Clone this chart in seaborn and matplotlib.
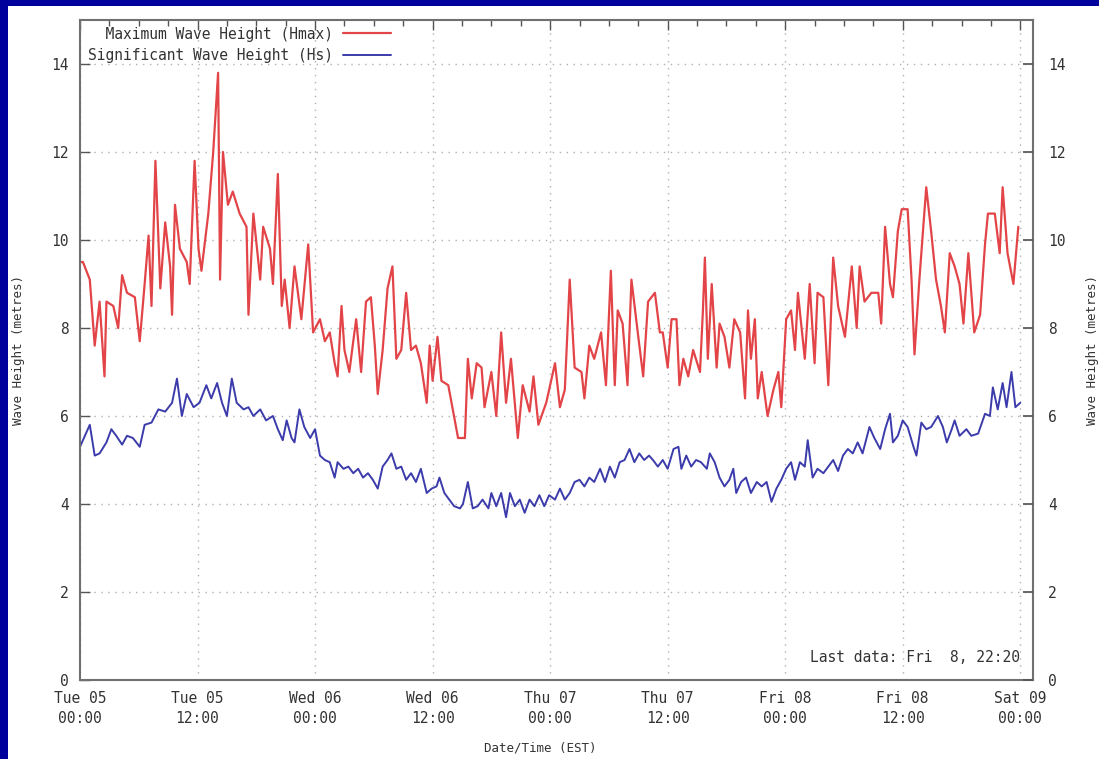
import numpy as np
import pandas as pd
import matplotlib
matplotlib.use("Agg")
import matplotlib.pyplot as plt
from matplotlib.patches import Rectangle
from matplotlib.ticker import MultipleLocator
import seaborn as sns

# hours after Tue 05 00:00 (EST) and wave heights in metres
hmax_hours = [0.0, 0.3, 1.0, 1.5, 2.0, 2.5, 2.7, 3.4, 3.9, 4.3, 4.8, 5.6, 6.1, 6.6, 7.0, 7.3, 7.7, 8.2, 8.7, 9.2,
              9.4, 9.7, 10.2, 10.9, 11.2, 11.7, 12.1, 12.4, 13.1, 13.6, 14.1, 14.3, 14.6, 15.1, 15.6, 16.3, 17.0, 17.2, 17.7, 18.4,
              18.7, 19.4, 19.7, 20.2, 20.6, 20.9, 21.4, 21.9, 22.6, 23.3, 23.8, 24.5, 25.0, 25.5, 26.0, 26.3, 26.7, 27.0, 27.5, 27.9,
              28.2, 28.7, 29.2, 29.7, 30.1, 30.4, 30.9, 31.4, 31.9, 32.3, 32.8, 33.3, 33.8, 34.3, 34.8, 35.4, 35.7, 36.0, 36.5, 36.9,
              37.6, 38.1, 38.6, 39.3, 39.6, 40.0, 40.5, 41.0, 41.3, 42.0, 42.5, 43.0, 43.5, 44.0, 44.7, 45.2, 45.9, 46.3, 46.8, 47.6,
              48.5, 49.0, 49.5, 50.0, 50.5, 51.2, 51.5, 52.0, 52.5, 53.2, 53.7, 54.2, 54.6, 54.9, 55.4, 55.9, 56.3, 57.0, 57.5, 58.0,
              58.7, 59.2, 59.5, 60.0, 60.4, 60.9, 61.2, 61.6, 62.1, 62.6, 63.3, 63.6, 63.8, 64.1, 64.5, 65.0, 65.3, 65.8, 66.3, 66.8,
              67.4, 67.9, 68.2, 68.5, 68.9, 69.2, 69.6, 70.2, 70.8, 71.3, 71.6, 72.1, 72.6, 73.0, 73.3, 74.0, 74.5, 75.0, 75.3, 75.9,
              76.4, 76.9, 77.4, 78.1, 78.8, 79.3, 79.6, 80.1, 80.8, 81.5, 81.8, 82.2, 82.7, 83.0, 83.5, 83.9, 84.5, 84.9, 85.2, 85.7,
              86.4, 86.9, 87.4, 87.9, 88.3, 88.8, 89.3, 89.8, 90.2, 90.7, 91.3, 91.9, 92.4, 92.7, 93.4, 93.9, 94.2, 94.7, 95.3, 95.8]
hmax_vals = [9.5, 9.5, 9.1, 7.6, 8.6, 6.9, 8.6, 8.5, 8.0, 9.2, 8.8, 8.7, 7.7, 9.0, 10.1, 8.5, 11.8, 8.9, 10.4, 9.4,
             8.3, 10.8, 9.8, 9.5, 9.0, 11.8, 9.8, 9.3, 10.6, 12.0, 13.8, 9.1, 12.0, 10.8, 11.1, 10.6, 10.3, 8.3, 10.6, 9.1,
             10.3, 9.8, 9.0, 11.5, 8.5, 9.1, 8.0, 9.4, 8.2, 9.9, 7.9, 8.2, 7.7, 7.9, 7.2, 6.9, 8.5, 7.5, 7.0, 7.7,
             8.2, 7.0, 8.6, 8.7, 7.6, 6.5, 7.5, 8.9, 9.4, 7.3, 7.5, 8.8, 7.5, 7.6, 7.2, 6.3, 7.6, 6.8, 7.8, 6.8,
             6.7, 6.1, 5.5, 5.5, 7.3, 6.4, 7.2, 7.1, 6.2, 7.0, 6.0, 7.9, 6.3, 7.3, 5.5, 6.7, 6.1, 6.9, 5.8, 6.3,
             7.2, 6.2, 6.6, 9.1, 7.1, 7.0, 6.4, 7.6, 7.3, 7.9, 6.7, 9.3, 6.7, 8.4, 8.1, 6.7, 9.1, 7.8, 6.9, 8.6,
             8.8, 7.9, 7.9, 7.1, 8.2, 8.2, 6.7, 7.3, 6.9, 7.5, 7.0, 8.4, 9.6, 7.3, 9.0, 7.1, 8.1, 7.8, 7.1, 8.2,
             7.9, 6.4, 8.4, 7.3, 8.2, 6.4, 7.0, 6.0, 6.6, 7.0, 6.2, 8.2, 8.4, 7.5, 8.8, 7.3, 9.0, 7.2, 8.8, 8.7,
             6.7, 9.6, 8.5, 7.8, 9.4, 8.0, 9.4, 8.6, 8.8, 8.8, 8.1, 10.3, 9.0, 8.7, 10.2, 10.7, 10.7, 9.1, 7.4, 9.1,
             11.2, 10.2, 9.1, 8.5, 7.9, 9.7, 9.4, 9.0, 8.1, 9.7, 7.9, 8.3, 9.9, 10.6, 10.6, 9.7, 11.2, 9.7, 9.0, 10.3]

hs_hours = [0.0, 0.3, 1.0, 1.5, 2.0, 2.7, 3.2, 3.7, 4.3, 4.8, 5.4, 6.1, 6.6, 7.3, 8.0, 8.7, 9.4, 9.9, 10.4, 10.9,
            11.6, 12.2, 12.9, 13.4, 14.0, 14.5, 15.0, 15.5, 16.0, 16.7, 17.2, 17.7, 18.4, 19.0, 19.7, 20.2, 20.7, 21.1, 21.6, 21.9,
            22.4, 22.9, 23.5, 24.0, 24.5, 25.0, 25.5, 26.0, 26.3, 26.9, 27.4, 27.9, 28.4, 28.9, 29.4, 29.9, 30.4, 30.9, 31.4, 31.8,
            32.3, 32.8, 33.3, 33.8, 34.3, 34.8, 35.4, 35.9, 36.4, 36.7, 37.2, 37.7, 38.2, 38.8, 39.1, 39.6, 40.1, 40.6, 41.1, 41.7,
            42.0, 42.5, 43.0, 43.5, 43.9, 44.4, 44.9, 45.4, 45.9, 46.4, 46.9, 47.4, 47.9, 48.5, 49.0, 49.5, 50.0, 50.5, 51.0, 51.5,
            52.0, 52.5, 53.1, 53.6, 54.1, 54.6, 55.1, 55.6, 56.1, 56.6, 57.1, 57.6, 58.1, 58.5, 59.0, 59.5, 60.0, 60.6, 61.1, 61.4,
            61.9, 62.4, 62.9, 63.4, 64.0, 64.3, 64.8, 65.3, 65.8, 66.3, 66.7, 67.0, 67.5, 68.0, 68.5, 69.1, 69.6, 70.1, 70.6, 71.1,
            71.6, 72.1, 72.6, 73.0, 73.5, 74.0, 74.3, 74.8, 75.3, 75.9, 76.4, 76.9, 77.4, 77.9, 78.4, 78.9, 79.4, 79.9, 80.6, 81.1,
            81.7, 82.2, 82.7, 83.0, 83.5, 84.0, 84.5, 85.1, 85.4, 85.9, 86.4, 86.9, 87.6, 88.1, 88.5, 89.0, 89.3, 89.8, 90.5, 91.0,
            91.7, 92.4, 92.9, 93.2, 93.7, 94.2, 94.6, 95.1, 95.5, 96.0]
hs_vals = [5.3, 5.45, 5.8, 5.1, 5.15, 5.4, 5.7, 5.55, 5.35, 5.55, 5.5, 5.3, 5.8, 5.85, 6.15, 6.1, 6.3, 6.85, 6.0, 6.5,
           6.2, 6.3, 6.7, 6.4, 6.75, 6.3, 6.0, 6.85, 6.3, 6.15, 6.2, 6.0, 6.15, 5.9, 6.0, 5.7, 5.45, 5.9, 5.5, 5.4,
           6.15, 5.75, 5.5, 5.7, 5.1, 5.0, 4.95, 4.6, 4.95, 4.8, 4.85, 4.7, 4.8, 4.6, 4.7, 4.55, 4.35, 4.85, 5.0, 5.15,
           4.8, 4.85, 4.55, 4.7, 4.5, 4.8, 4.25, 4.35, 4.4, 4.6, 4.25, 4.1, 3.95, 3.9, 4.0, 4.5, 3.9, 3.95, 4.1, 3.9,
           4.25, 3.95, 4.25, 3.7, 4.25, 3.95, 4.1, 3.8, 4.1, 3.95, 4.2, 3.95, 4.2, 4.1, 4.35, 4.1, 4.25, 4.5, 4.55, 4.4,
           4.6, 4.5, 4.8, 4.5, 4.85, 4.6, 4.95, 5.0, 5.25, 4.95, 5.15, 5.0, 5.1, 5.0, 4.85, 5.0, 4.8, 5.25, 5.3, 4.8,
           5.1, 4.85, 5.0, 4.95, 4.8, 5.15, 4.95, 4.6, 4.4, 4.55, 4.8, 4.25, 4.5, 4.6, 4.25, 4.5, 4.4, 4.5, 4.05, 4.35,
           4.55, 4.8, 4.95, 4.55, 4.95, 4.85, 5.45, 4.6, 4.8, 4.7, 4.85, 5.0, 4.75, 5.1, 5.25, 5.15, 5.4, 5.15, 5.75, 5.5,
           5.25, 5.7, 6.05, 5.4, 5.55, 5.9, 5.75, 5.3, 5.1, 5.85, 5.7, 5.75, 6.0, 5.75, 5.4, 5.7, 5.9, 5.55, 5.7, 5.55,
           5.6, 6.05, 6.0, 6.65, 6.15, 6.75, 6.2, 7.0, 6.2, 6.3]

tick_hours = [0, 12, 24, 36, 48, 60, 72, 84, 96]
tick_labels = ["Tue 05\n00:00", "Tue 05\n12:00", "Wed 06\n00:00", "Wed 06\n12:00", "Thu 07\n00:00",
               "Thu 07\n12:00", "Fri 08\n00:00", "Fri 08\n12:00", "Sat 09\n00:00"]

df_hmax = pd.DataFrame({"hour": hmax_hours, "height": hmax_vals})
df_hs = pd.DataFrame({"hour": hs_hours, "height": hs_vals})

sns.set_theme(style="white")
plt.rcParams["font.family"] = ["DejaVu Sans Mono", "DejaVu Sans"]
fs = 10.5
lfs = 9
txt = "#333333"

fig = plt.figure(figsize=(10.99, 7.59), dpi=100)
fig.patch.set_facecolor("#00009c")
fig.patches.append(Rectangle((8 / 1099, 0), 1, 1 - 6 / 759, transform=fig.transFigure,
                             facecolor="white", edgecolor="none", zorder=-10))
ax = fig.add_axes([80 / 1099, 79 / 759, 953 / 1099, 660 / 759])
ax.set_facecolor("white")

sns.lineplot(data=df_hmax, x="hour", y="height", ax=ax, color="#e24448", lw=1.6,
             sort=False, estimator=None, label="  Maximum Wave Height (Hmax)")
sns.lineplot(data=df_hs, x="hour", y="height", ax=ax, color="#3b3bab", lw=1.4,
             sort=False, estimator=None, label="Significant Wave Height (Hs)")

ax.set_xlim(0, 97.3)
ax.set_ylim(0, 15)
ax.set_xticks(tick_hours)
ax.set_xticklabels(tick_labels, fontsize=fs, color=txt, linespacing=1.4)
ax.xaxis.set_minor_locator(MultipleLocator(3))
ax.set_yticks(range(0, 15, 2))
ax.tick_params(axis="both", which="major", direction="in", length=7, width=1, color="#555555",
               labelsize=fs, labelcolor=txt, top=True, right=True, pad=8)
ax.tick_params(axis="both", which="minor", direction="in", length=4, width=1, color="#555555",
               top=True)
ax.grid(True, which="major", color="#b0b0b0", linestyle=(0, (1, 4)), linewidth=1)
for s in ax.spines.values():
    s.set_color("#707070")
    s.set_linewidth(1.5)

ax.set_xlabel("Date/Time (EST)", fontsize=lfs, color=txt)
ax.xaxis.set_label_coords(0.483, -0.093)
ax.set_ylabel("Wave Height (metres)", fontsize=lfs, color=txt)
ax.yaxis.set_label_coords(-0.058, 0.5)

ax2 = ax.twinx()
ax2.set_ylim(0, 15)
ax2.set_yticks(range(0, 15, 2))
ax2.tick_params(axis="y", direction="in", length=7, color="#555555", labelsize=fs,
                labelcolor=txt, pad=11)
ax2.set_ylabel("Wave Height (metres)", fontsize=lfs, color=txt, rotation=90)
ax2.yaxis.set_label_coords(1.056, 0.5)
for s in ax2.spines.values():
    s.set_visible(False)

leg = ax.legend(loc="upper left", bbox_to_anchor=(0.008, 0.99), markerfirst=False, frameon=False,
                fontsize=fs, handlelength=3.3, handletextpad=0.7, labelspacing=0.45,
                borderpad=0, borderaxespad=0)
for t in leg.get_texts():
    t.set_color(txt)

ax.text(0.986, 0.022, "Last data: Fri  8, 22:20", transform=ax.transAxes,
        ha="right", va="bottom", fontsize=fs, color=txt)

fig.savefig("out.png", dpi=100, facecolor=fig.get_facecolor())
